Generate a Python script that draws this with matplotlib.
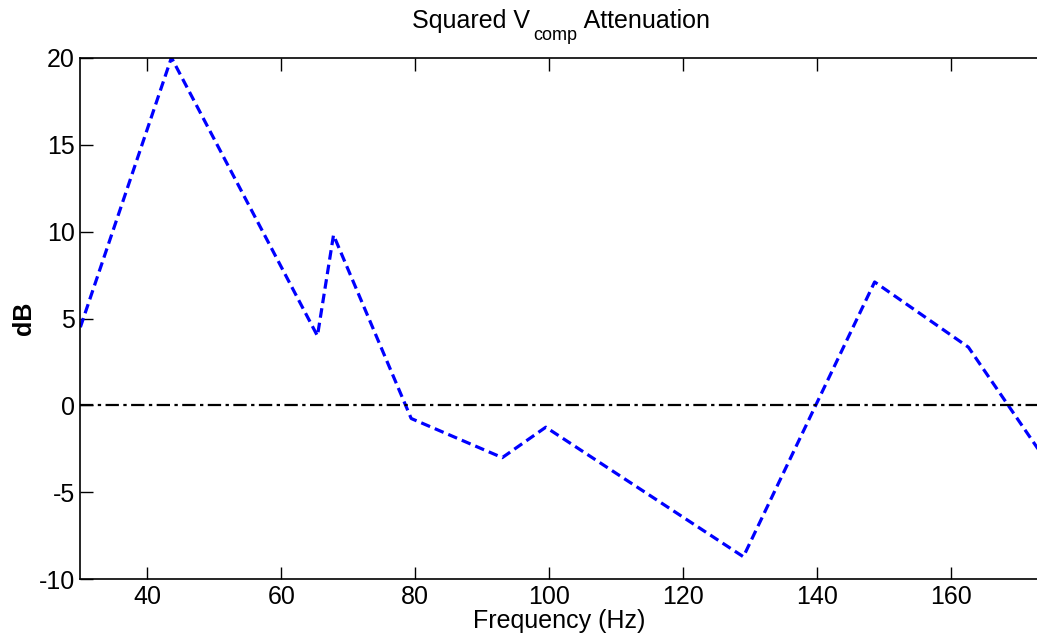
import matplotlib
matplotlib.use("Agg")
import matplotlib.pyplot as plt

freq = [30, 43.6, 65.4, 67.8, 79.4, 93.0, 99.5, 129.0, 148.6, 162.6, 173.0]
atten_db = [4.5, 20.0, 4.0, 9.8, -0.75, -3.0, -1.25, -8.7, 7.1, 3.35, -2.5]
xticks = [40, 60, 80, 100, 120, 140, 160]
yticks = [-10, -5, 0, 5, 10, 15, 20]
xlim = (30, 173)
ylim = (-10, 20)
title_main = 'Squared V'
title_sub = 'comp'
title_rest = ' Attenuation'

plt.rcParams['font.family'] = ['Liberation Sans', 'DejaVu Sans']
plt.rcParams['axes.unicode_minus'] = False

W, H = 1037, 637
fig = plt.figure(figsize=(W / 100, H / 100), dpi=100)
ax = fig.add_axes([0.0775, 0.0905, 0.9235, 0.819])

ax.plot(freq, atten_db, color='#0000ff', linestyle=(0, (3, 1.6)), linewidth=2.3)
ax.axhline(0, color='black', linestyle=(0, (6, 2, 1.5, 2)), linewidth=1.6)

ax.set_xlim(*xlim)
ax.set_ylim(*ylim)
ax.set_xticks(xticks)
ax.set_yticks(yticks)
ax.tick_params(direction='in', length=9, width=1, top=True, right=False, labelsize=18, pad=4)
ax.spines['right'].set_visible(False)
for s in ax.spines.values():
    s.set_linewidth(1.2)

ax.set_xlabel('Frequency (Hz)', fontsize=18, labelpad=0)
ax.set_ylabel('dB', fontsize=18, fontweight='bold', labelpad=2)

# title with a lowered subscript
renderer = fig.canvas.get_renderer()
base_y = 1 - 28 / H
t1 = fig.text(0, base_y, title_main, fontsize=18, va='baseline', ha='left')
t2 = fig.text(0, base_y - 12 / H, title_sub, fontsize=13, va='baseline', ha='left')
t3 = fig.text(0, base_y, title_rest, fontsize=18, va='baseline', ha='left')
w1 = t1.get_window_extent(renderer).width
w2 = t2.get_window_extent(renderer).width
w3 = t3.get_window_extent(renderer).width
gap = 3
total = w1 + gap + w2 + w3
x0 = 561 - total / 2
t1.set_x(x0 / W)
t2.set_x((x0 + w1 + gap) / W)
t3.set_x((x0 + w1 + gap + w2) / W)

fig.savefig('out.png', dpi=100)
